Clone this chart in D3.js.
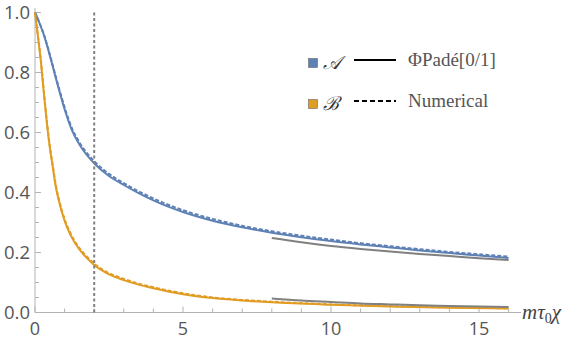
<!DOCTYPE html>
<html><head><meta charset="utf-8">
<script src="https://cdn.jsdelivr.net/npm/d3@7"></script>
<style>body{margin:0;background:#fff}svg{display:block}</style>
</head><body>
<script>
// ---- data ----
const xA    = [0,0.15,0.3,0.45,0.6,0.75,0.9,1.07,1.25,1.5,1.75,2.03,2.5,3,3.5,4,4.5,5,6,7,8,9,10,11,12,13,14,15,16];
const padeA = [1,0.965,0.925,0.875,0.82,0.764,0.711,0.656,0.607,0.56,0.525,0.494,0.455,0.425,0.398,0.374,0.353,0.335,0.306,0.284,0.266,0.251,0.238,0.227,0.217,0.207,0.198,0.19,0.182];
const numA  = [1,0.966,0.927,0.878,0.824,0.769,0.717,0.662,0.614,0.567,0.532,0.501,0.462,0.431,0.404,0.38,0.359,0.341,0.312,0.289,0.271,0.256,0.243,0.231,0.221,0.211,0.202,0.194,0.186];
const xB    = [0,0.1,0.2,0.3,0.4,0.5,0.6,0.7,0.8,1.0,1.2,1.5,1.7,2,2.5,3,3.5,4,5,6,7,8,10,12,14,16];
const padeB = [1,0.92,0.835,0.73,0.632,0.55,0.485,0.42,0.375,0.305,0.258,0.21,0.187,0.158,0.127,0.108,0.093,0.081,0.061,0.048,0.04,0.034,0.026,0.02,0.016,0.013];
const numB  = [1,0.922,0.839,0.736,0.638,0.556,0.491,0.426,0.381,0.311,0.264,0.215,0.192,0.163,0.131,0.112,0.096,0.084,0.064,0.05,0.042,0.036,0.027,0.021,0.017,0.014];
const xAsym = [8,9,10,11,12,13,14,15,16];
const asymA = [0.248,0.234,0.222,0.212,0.203,0.195,0.188,0.181,0.175];
const asymB = [0.047,0.04,0.035,0.03,0.027,0.024,0.022,0.02,0.018];
const xMarker = 2;
const xTicks = [0,5,10,15];
const yTicks = [0.0,0.2,0.4,0.6,0.8,1.0];
const legendSeries = ["𝒜","ℬ"];
const legendLines = ["ΦPadé[0/1]","Numerical"];

// ---- layout ----
const W=576,H=339;
const svg=d3.select("body").append("svg").attr("width",W).attr("height",H);
const x=d3.scaleLinear().domain([0,16]).range([35,508.6]);
const y=d3.scaleLinear().domain([0,1]).range([312.5,12.5]);
const blue="#5E81B5", orange="#E19C24", gray="#808080", axisCol="#b3b3b3", txt="#555";

// axes
const gx=svg.append("g").attr("transform","translate(0,312.5)");
gx.append("line").attr("x1",35).attr("x2",521).attr("stroke",axisCol);
d3.range(0,17,1).forEach(v=>{
  const major=v%5===0;
  gx.append("line").attr("x1",x(v)).attr("x2",x(v)).attr("y1",0).attr("y2",major?-6:-4).attr("stroke",axisCol);
});
xTicks.forEach(v=>gx.append("text").attr("x",x(v)).attr("y",22).attr("text-anchor","middle")
  .attr("font-family","Open Sans").attr("font-size",18).attr("fill",txt).text(d3.format("d")(v)));
const gy=svg.append("g").attr("transform","translate(35,0)");
gy.append("line").attr("y1",312.5).attr("y2",8).attr("stroke",axisCol);
d3.range(0,21).forEach(i=>{
  const v=i*0.05, major=i%4===0;
  gy.append("line").attr("x1",0).attr("x2",major?6:4).attr("y1",y(v)).attr("y2",y(v)).attr("stroke",axisCol);
});
yTicks.forEach(v=>gy.append("text").attr("x",-5).attr("y",y(v)).attr("dy","0.35em").attr("text-anchor","end")
  .attr("font-family","Open Sans").attr("font-size",18.5).attr("fill",txt).text(d3.format(".1f")(v)));
// axis label
const lab=svg.append("text").attr("x",522).attr("y",319).attr("font-family","Liberation Serif").attr("font-style","italic")
  .attr("font-size",21).attr("fill","#444");
lab.append("tspan").text("mτ");
lab.append("tspan").attr("dy",4).attr("font-size",14).attr("font-style","normal").text("0");
lab.append("tspan").attr("dy",-4).text("χ");

// curves
const line=d3.line().curve(d3.curveMonotoneX);
const pts=(xs,ys)=>xs.map((v,i)=>[x(v),y(ys[i])]);
function draw(xs,ys,col,dash,w){
  svg.append("path").attr("d",line(pts(xs,ys))).attr("fill","none").attr("stroke",col)
    .attr("stroke-width",w||2).attr("stroke-dasharray",dash||null);
}
draw(xA,padeA,blue);
draw(xB,padeB,orange);
draw(xA,numA,blue,"4,2");
draw(xB,numB,orange,"4,2");
draw(xAsym,asymA,gray);
draw(xAsym,asymB,gray);
// marker line
svg.append("line").attr("x1",x(xMarker)).attr("x2",x(xMarker)).attr("y1",y(0)).attr("y2",10)
  .attr("stroke","#808080").attr("stroke-width",2).attr("stroke-dasharray","3,2.5");

// legend
const lg=svg.append("g");
[blue,orange].forEach((c,i)=>{
  const cy=63+i*41;
  lg.append("rect").attr("x",308.5).attr("y",cy-4.5).attr("width",9).attr("height",9).attr("fill",c).attr("stroke","#555").attr("stroke-width",0.5);
  lg.append("text").attr("x",323).attr("y",cy+6).attr("font-family","DejaVu Serif").attr("font-style","italic").attr("font-size",19).attr("fill","#333").text(legendSeries[i]);
  lg.append("line").attr("x1",354).attr("x2",396).attr("y1",cy-3).attr("y2",cy-3).attr("stroke","#000").attr("stroke-width",2)
    .attr("stroke-dasharray",i?"5,3":null);
  lg.append("text").attr("x",408).attr("y",cy+3).attr("font-family","Liberation Serif").attr("font-size",19).attr("fill","#555").text(legendLines[i]);
});
</script>
</body></html>
